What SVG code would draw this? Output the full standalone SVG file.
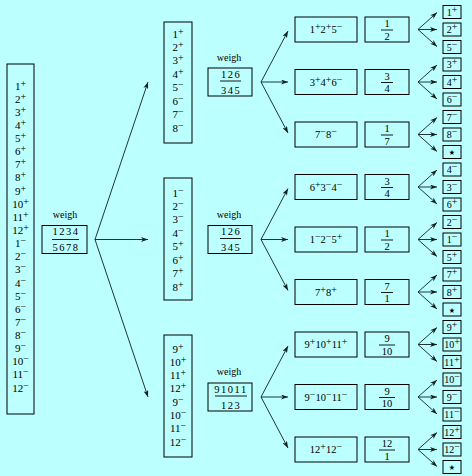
<svg xmlns="http://www.w3.org/2000/svg" width="472" height="476" viewBox="0 0 472 476">
<defs>
<style>
text{font-family:"Liberation Serif","DejaVu Serif",serif;fill:#000;text-anchor:middle}
.l{font-size:11px}
.w{font-size:10px}
.f{font-size:10.5px;letter-spacing:1.5px}
.r{font-size:10.5px}
.sm{font-size:10px}
.s{font-size:10px;baseline-shift:3.5px}
.box{fill:none;stroke:#000;stroke-width:1}
.fl{stroke:#000;stroke-width:0.9}
.ar{fill:none;stroke:#102020;stroke-width:0.9;marker-end:url(#ah)}
.st{font-family:"DejaVu Sans",sans-serif;font-size:14px}
</style>
<marker id="ah" markerUnits="userSpaceOnUse" markerWidth="7" markerHeight="5" refX="7" refY="2.5" orient="auto">
<path d="M0,0 L7,2.5 L0,5 L2,2.5 z" fill="#102020"/>
</marker>
</defs>
<rect x="0" y="0" width="472" height="476" fill="#bbffff"/>

<g id="start">
<rect class="box" x="7" y="64" width="27" height="350"/>
<text class="l" x="20.5" y="89.5">1<tspan class="s">+</tspan></text>
<text class="l" x="20.5" y="102.6">2<tspan class="s">+</tspan></text>
<text class="l" x="20.5" y="115.8">3<tspan class="s">+</tspan></text>
<text class="l" x="20.5" y="128.9">4<tspan class="s">+</tspan></text>
<text class="l" x="20.5" y="142">5<tspan class="s">+</tspan></text>
<text class="l" x="20.5" y="155.2">6<tspan class="s">+</tspan></text>
<text class="l" x="20.5" y="168.3">7<tspan class="s">+</tspan></text>
<text class="l" x="20.5" y="181.4">8<tspan class="s">+</tspan></text>
<text class="l" x="20.5" y="194.5">9<tspan class="s">+</tspan></text>
<text class="l" x="20.5" y="207.7">10<tspan class="s">+</tspan></text>
<text class="l" x="20.5" y="220.8">11<tspan class="s">+</tspan></text>
<text class="l" x="20.5" y="233.9">12<tspan class="s">+</tspan></text>
<text class="l" x="20.5" y="247.1">1<tspan class="s">−</tspan></text>
<text class="l" x="20.5" y="260.2">2<tspan class="s">−</tspan></text>
<text class="l" x="20.5" y="273.3">3<tspan class="s">−</tspan></text>
<text class="l" x="20.5" y="286.5">4<tspan class="s">−</tspan></text>
<text class="l" x="20.5" y="299.6">5<tspan class="s">−</tspan></text>
<text class="l" x="20.5" y="312.7">6<tspan class="s">−</tspan></text>
<text class="l" x="20.5" y="325.8">7<tspan class="s">−</tspan></text>
<text class="l" x="20.5" y="339">8<tspan class="s">−</tspan></text>
<text class="l" x="20.5" y="352.1">9<tspan class="s">−</tspan></text>
<text class="l" x="20.5" y="365.2">10<tspan class="s">−</tspan></text>
<text class="l" x="20.5" y="378.4">11<tspan class="s">−</tspan></text>
<text class="l" x="20.5" y="391.5">12<tspan class="s">−</tspan></text>
</g>

<g id="weigh0">
<text class="w" x="65" y="218">weigh</text>
<rect class="box" x="42" y="225.5" width="45" height="28"/>
<text class="f" x="66" y="235">1234</text>
<line class="fl" x1="52" y1="239.5" x2="79" y2="239.5"/>
<text class="f" x="66" y="251">5678</text>
</g>

<g id="mid1">
<rect class="box" x="164" y="22" width="28" height="121"/>
<text class="l" x="178" y="37.5">1<tspan class="s">+</tspan></text>
<text class="l" x="178" y="50.9">2<tspan class="s">+</tspan></text>
<text class="l" x="178" y="64.4">3<tspan class="s">+</tspan></text>
<text class="l" x="178" y="77.8">4<tspan class="s">+</tspan></text>
<text class="l" x="178" y="91.2">5<tspan class="s">−</tspan></text>
<text class="l" x="178" y="104.7">6<tspan class="s">−</tspan></text>
<text class="l" x="178" y="118.1">7<tspan class="s">−</tspan></text>
<text class="l" x="178" y="131.5">8<tspan class="s">−</tspan></text>
</g>
<g id="mid2">
<rect class="box" x="164" y="178" width="28" height="122"/>
<text class="l" x="178" y="196.5">1<tspan class="s">−</tspan></text>
<text class="l" x="178" y="209.9">2<tspan class="s">−</tspan></text>
<text class="l" x="178" y="223.4">3<tspan class="s">−</tspan></text>
<text class="l" x="178" y="236.8">4<tspan class="s">−</tspan></text>
<text class="l" x="178" y="250.2">5<tspan class="s">+</tspan></text>
<text class="l" x="178" y="263.7">6<tspan class="s">+</tspan></text>
<text class="l" x="178" y="277.1">7<tspan class="s">+</tspan></text>
<text class="l" x="178" y="290.5">8<tspan class="s">+</tspan></text>
</g>
<g id="mid3">
<rect class="box" x="164" y="335" width="28" height="122"/>
<text class="l" x="178" y="352.5">9<tspan class="s">+</tspan></text>
<text class="l" x="178" y="365.8">10<tspan class="s">+</tspan></text>
<text class="l" x="178" y="379.1">11<tspan class="s">+</tspan></text>
<text class="l" x="178" y="392.4">12<tspan class="s">+</tspan></text>
<text class="l" x="178" y="405.7">9<tspan class="s">−</tspan></text>
<text class="l" x="178" y="419">10<tspan class="s">−</tspan></text>
<text class="l" x="178" y="432.3">11<tspan class="s">−</tspan></text>
<text class="l" x="178" y="445.6">12<tspan class="s">−</tspan></text>
</g>

<g id="weigh1">
<text class="w" x="229" y="61">weigh</text>
<rect class="box" x="208" y="68" width="44" height="28"/>
<text class="f" x="231" y="77.5">126</text>
<line class="fl" x1="220" y1="81" x2="241" y2="81"/>
<text class="f" x="231" y="93.5">345</text>
</g>
<g id="weigh2">
<text class="w" x="229" y="218">weigh</text>
<rect class="box" x="208" y="225.5" width="44" height="28"/>
<text class="f" x="231" y="235">126</text>
<line class="fl" x1="220" y1="238.5" x2="241" y2="238.5"/>
<text class="f" x="231" y="251">345</text>
</g>
<g id="weigh3">
<text class="w" x="229" y="375">weigh</text>
<rect class="box" x="208" y="383" width="44" height="28"/>
<text class="f" x="231" y="392.5">91011</text>
<line class="fl" x1="215" y1="396" x2="247" y2="396"/>
<text class="f" x="231" y="408.5">123</text>
</g>

<g id="row0">
<rect class="box" x="295" y="17" width="62" height="25"/>
<text class="r" x="326" y="33">1<tspan class="s">+</tspan>2<tspan class="s">+</tspan>5<tspan class="s">−</tspan></text>
<rect class="box" x="365" y="17" width="44" height="25"/>
<text class="r" x="387" y="27">1</text><line class="fl" x1="381" y1="30" x2="393" y2="30"/><text class="r" x="387" y="39.5">2</text>
</g>
<g id="row1">
<rect class="box" x="295" y="69.5" width="62" height="25"/>
<text class="r" x="326" y="85.5">3<tspan class="s">+</tspan>4<tspan class="s">+</tspan>6<tspan class="s">−</tspan></text>
<rect class="box" x="365" y="69.5" width="44" height="25"/>
<text class="r" x="387" y="79.5">3</text><line class="fl" x1="381" y1="82.5" x2="393" y2="82.5"/><text class="r" x="387" y="92">4</text>
</g>
<g id="row2">
<rect class="box" x="295" y="122" width="62" height="25"/>
<text class="r" x="326" y="138">7<tspan class="s">−</tspan>8<tspan class="s">−</tspan></text>
<rect class="box" x="365" y="122" width="44" height="25"/>
<text class="r" x="387" y="132">1</text><line class="fl" x1="381" y1="135" x2="393" y2="135"/><text class="r" x="387" y="144.5">7</text>
</g>
<g id="row3">
<rect class="box" x="295" y="174.5" width="62" height="25"/>
<text class="r" x="326" y="190.5">6<tspan class="s">+</tspan>3<tspan class="s">−</tspan>4<tspan class="s">−</tspan></text>
<rect class="box" x="365" y="174.5" width="44" height="25"/>
<text class="r" x="387" y="184.5">3</text><line class="fl" x1="381" y1="187.5" x2="393" y2="187.5"/><text class="r" x="387" y="197">4</text>
</g>
<g id="row4">
<rect class="box" x="295" y="227" width="62" height="25"/>
<text class="r" x="326" y="243">1<tspan class="s">−</tspan>2<tspan class="s">−</tspan>5<tspan class="s">+</tspan></text>
<rect class="box" x="365" y="227" width="44" height="25"/>
<text class="r" x="387" y="237">1</text><line class="fl" x1="381" y1="240" x2="393" y2="240"/><text class="r" x="387" y="249.5">2</text>
</g>
<g id="row5">
<rect class="box" x="295" y="279.5" width="62" height="25"/>
<text class="r" x="326" y="295.5">7<tspan class="s">+</tspan>8<tspan class="s">+</tspan></text>
<rect class="box" x="365" y="279.5" width="44" height="25"/>
<text class="r" x="387" y="289.5">7</text><line class="fl" x1="381" y1="292.5" x2="393" y2="292.5"/><text class="r" x="387" y="302">1</text>
</g>
<g id="row6">
<rect class="box" x="295" y="332" width="62" height="25"/>
<text class="r" x="326" y="348">9<tspan class="s">+</tspan>10<tspan class="s">+</tspan>11<tspan class="s">+</tspan></text>
<rect class="box" x="365" y="332" width="44" height="25"/>
<text class="r" x="387" y="342">9</text><line class="fl" x1="379" y1="345" x2="395" y2="345"/><text class="r" x="387" y="354.5">10</text>
</g>
<g id="row7">
<rect class="box" x="295" y="384.5" width="62" height="25"/>
<text class="r" x="326" y="400.5">9<tspan class="s">−</tspan>10<tspan class="s">−</tspan>11<tspan class="s">−</tspan></text>
<rect class="box" x="365" y="384.5" width="44" height="25"/>
<text class="r" x="387" y="394.5">9</text><line class="fl" x1="379" y1="397.5" x2="395" y2="397.5"/><text class="r" x="387" y="407">10</text>
</g>
<g id="row8">
<rect class="box" x="295" y="437" width="62" height="25"/>
<text class="r" x="326" y="453">12<tspan class="s">+</tspan>12<tspan class="s">−</tspan></text>
<rect class="box" x="365" y="437" width="44" height="25"/>
<text class="r" x="387" y="447">12</text><line class="fl" x1="379" y1="450" x2="395" y2="450"/><text class="r" x="387" y="459.5">1</text>
</g>

<g id="leaves">
<rect class="box" x="443" y="5.5" width="18" height="13"/><text class="sm" x="452" y="15.5">1<tspan class="s">+</tspan></text>
<rect class="box" x="443" y="23" width="18" height="13"/><text class="sm" x="452" y="33">2<tspan class="s">+</tspan></text>
<rect class="box" x="443" y="40.5" width="18" height="13"/><text class="sm" x="452" y="50.5">5<tspan class="s">−</tspan></text>
<rect class="box" x="443" y="58" width="18" height="13"/><text class="sm" x="452" y="68">3<tspan class="s">+</tspan></text>
<rect class="box" x="443" y="75.5" width="18" height="13"/><text class="sm" x="452" y="85.5">4<tspan class="s">+</tspan></text>
<rect class="box" x="443" y="93" width="18" height="13"/><text class="sm" x="452" y="103">6<tspan class="s">−</tspan></text>
<rect class="box" x="443" y="110.5" width="18" height="13"/><text class="sm" x="452" y="120.5">7<tspan class="s">−</tspan></text>
<rect class="box" x="443" y="128" width="18" height="13"/><text class="sm" x="452" y="138">8<tspan class="s">−</tspan></text>
<rect class="box" x="443" y="145.5" width="18" height="13"/><text class="st" x="452" y="157">⋆</text>
<rect class="box" x="443" y="163" width="18" height="13"/><text class="sm" x="452" y="173">4<tspan class="s">−</tspan></text>
<rect class="box" x="443" y="180.5" width="18" height="13"/><text class="sm" x="452" y="190.5">3<tspan class="s">−</tspan></text>
<rect class="box" x="443" y="198" width="18" height="13"/><text class="sm" x="452" y="208">6<tspan class="s">+</tspan></text>
<rect class="box" x="443" y="215.5" width="18" height="13"/><text class="sm" x="452" y="225.5">2<tspan class="s">−</tspan></text>
<rect class="box" x="443" y="233" width="18" height="13"/><text class="sm" x="452" y="243">1<tspan class="s">−</tspan></text>
<rect class="box" x="443" y="250.5" width="18" height="13"/><text class="sm" x="452" y="260.5">5<tspan class="s">+</tspan></text>
<rect class="box" x="443" y="268" width="18" height="13"/><text class="sm" x="452" y="278">7<tspan class="s">+</tspan></text>
<rect class="box" x="443" y="285.5" width="18" height="13"/><text class="sm" x="452" y="295.5">8<tspan class="s">+</tspan></text>
<rect class="box" x="443" y="303" width="18" height="13"/><text class="st" x="452" y="314.5">⋆</text>
<rect class="box" x="443" y="320.5" width="18" height="13"/><text class="sm" x="452" y="330.5">9<tspan class="s">+</tspan></text>
<rect class="box" x="443" y="338" width="18" height="13"/><text class="sm" x="452" y="348">10<tspan class="s">+</tspan></text>
<rect class="box" x="443" y="355.5" width="18" height="13"/><text class="sm" x="452" y="365.5">11<tspan class="s">+</tspan></text>
<rect class="box" x="443" y="373" width="18" height="13"/><text class="sm" x="452" y="383">10<tspan class="s">−</tspan></text>
<rect class="box" x="443" y="390.5" width="18" height="13"/><text class="sm" x="452" y="400.5">9<tspan class="s">−</tspan></text>
<rect class="box" x="443" y="408" width="18" height="13"/><text class="sm" x="452" y="418">11<tspan class="s">−</tspan></text>
<rect class="box" x="443" y="425.5" width="18" height="13"/><text class="sm" x="452" y="435.5">12<tspan class="s">+</tspan></text>
<rect class="box" x="443" y="443" width="18" height="13"/><text class="sm" x="452" y="453">12<tspan class="s">−</tspan></text>
<rect class="box" x="443" y="460.5" width="18" height="13"/><text class="st" x="452" y="472">⋆</text>
</g>

<g id="connectors">
<path class="ar" d="M95,239.5 L148,82"/>
<path class="ar" d="M95,239.5 L148,239.5"/>
<path class="ar" d="M95,239.5 L148,397"/>

<path class="ar" d="M261,82 L288,31"/>
<path class="ar" d="M261,82 L288,82"/>
<path class="ar" d="M261,82 L288,133"/>
<path class="ar" d="M261,239.5 L288,188.5"/>
<path class="ar" d="M261,239.5 L288,239.5"/>
<path class="ar" d="M261,239.5 L288,290.5"/>
<path class="ar" d="M261,397 L288,346"/>
<path class="ar" d="M261,397 L288,397"/>
<path class="ar" d="M261,397 L288,448"/>

<path class="ar" d="M418,29.5 L437,12.5"/>
<path class="ar" d="M418,29.5 L437,29.5"/>
<path class="ar" d="M418,29.5 L437,46.5"/>
<path class="ar" d="M418,82 L437,65"/>
<path class="ar" d="M418,82 L437,82"/>
<path class="ar" d="M418,82 L437,99"/>
<path class="ar" d="M418,134.5 L437,117.5"/>
<path class="ar" d="M418,134.5 L437,134.5"/>
<path class="ar" d="M418,134.5 L437,151.5"/>
<path class="ar" d="M418,187 L437,170"/>
<path class="ar" d="M418,187 L437,187"/>
<path class="ar" d="M418,187 L437,204"/>
<path class="ar" d="M418,239.5 L437,222.5"/>
<path class="ar" d="M418,239.5 L437,239.5"/>
<path class="ar" d="M418,239.5 L437,256.5"/>
<path class="ar" d="M418,292 L437,275"/>
<path class="ar" d="M418,292 L437,292"/>
<path class="ar" d="M418,292 L437,309"/>
<path class="ar" d="M418,344.5 L437,327.5"/>
<path class="ar" d="M418,344.5 L437,344.5"/>
<path class="ar" d="M418,344.5 L437,361.5"/>
<path class="ar" d="M418,397 L437,380"/>
<path class="ar" d="M418,397 L437,397"/>
<path class="ar" d="M418,397 L437,414"/>
<path class="ar" d="M418,449.5 L437,432.5"/>
<path class="ar" d="M418,449.5 L437,449.5"/>
<path class="ar" d="M418,449.5 L437,466.5"/>
</g>
</svg>
